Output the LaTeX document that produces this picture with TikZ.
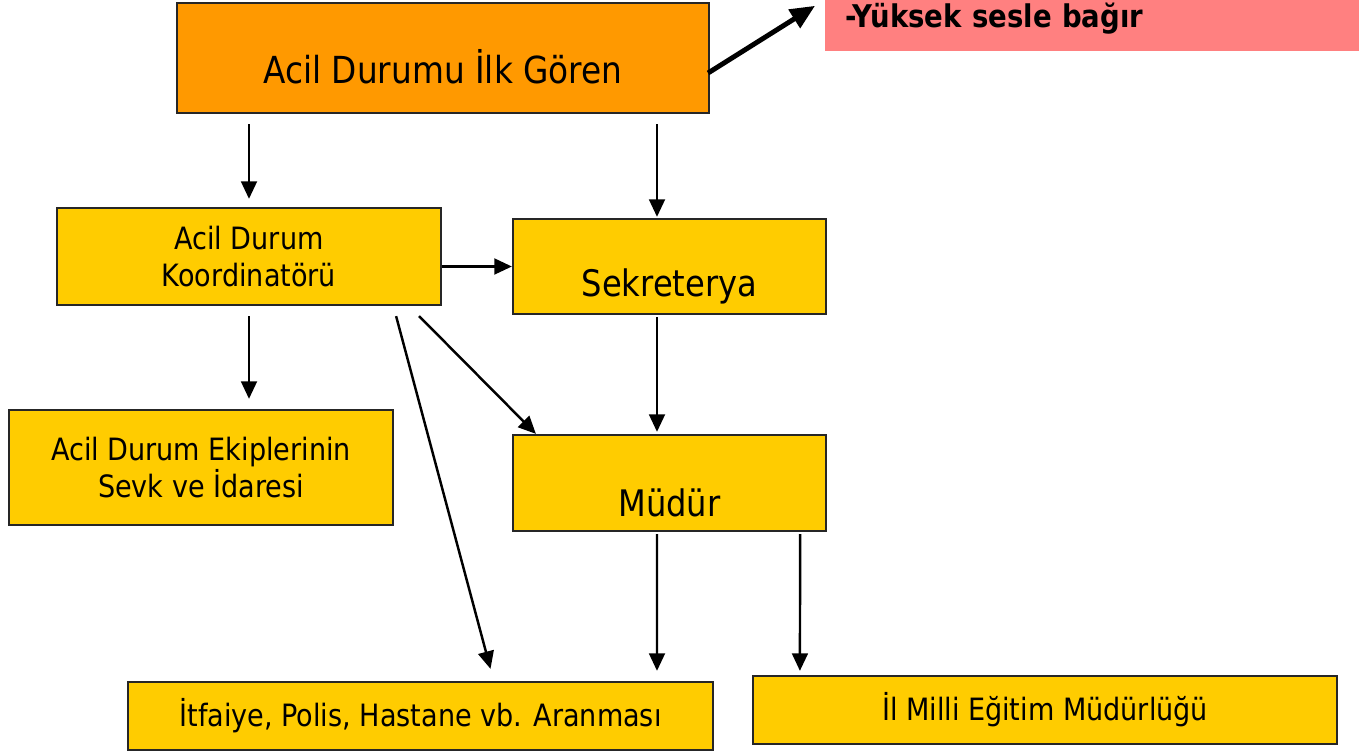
\documentclass[tikz,border=0pt]{standalone}
\usepackage{fontspec}
\setmainfont{DejaVu Sans}[FakeStretch=0.88]
\usetikzlibrary{arrows.meta,calc}
\definecolor{turuncu}{HTML}{FF9900}
\definecolor{sari}{HTML}{FFCC00}
\definecolor{pembe}{HTML}{FF8080}
\begin{document}
\begin{tikzpicture}[x=0.02cm, y=-0.02cm,
  kutu/.style={rectangle, draw=black!85, line width=1.3pt, fill=sari, align=center, font=\fontsize{17.5}{21}\selectfont},
  buyuk/.style={font=\fontsize{20.8}{24}\selectfont, text depth=0pt},
  ok/.style={-{Triangle[length=10pt,width=9pt]}, line width=1.4pt},
  kalin/.style={-{Triangle[length=14pt,width=12pt]}, line width=2.8pt}]
  \useasboundingbox (0,0) rectangle (1359,753);
  % Nodes
  \node (gor) [kutu, buyuk, fill=turuncu, font=\fontsize{21.2}{25}\selectfont, text height=29.5pt, minimum width=10.64cm, minimum height=2.2cm] at (443, 58) {Acil Durumu İlk Gören};
  \node (bagir) [rectangle, fill=pembe, anchor=north west, align=left, text width=9.88cm, inner xsep=0.4cm, inner ysep=0pt, text height=12pt, text depth=10.3pt, minimum height=1.02cm, font=\fontsize{17.8}{21}\selectfont\bfseries] at (825, 0) {-Yüksek sesle bağır};
  \node (koord) [kutu, minimum width=7.68cm, minimum height=1.94cm] at (249, 256.5) {Acil Durum\\Koordinatörü};
  \node (sekr) [kutu, buyuk, text height=34.6pt, minimum width=6.26cm, minimum height=1.9cm] at (669.5, 266.5) {Sekreterya};
  \node (ekip) [kutu, minimum width=7.68cm, minimum height=2.3cm] at (201, 467.5) {Acil Durum Ekiplerinin\\Sevk ve İdaresi};
  \node (mudur) [kutu, buyuk, text height=38.5pt, minimum width=6.26cm, minimum height=1.92cm] at (669.5, 483) {Müdür};
  \node (itf) [kutu, minimum width=11.7cm, minimum height=1.36cm] at (420.5, 716) {İtfaiye, Polis, Hastane vb. Aranması};
  \node (meb) [kutu, minimum width=11.68cm, minimum height=1.36cm] at (1045, 710) {İl Milli Eğitim Müdürlüğü};
  % Arrow
  \draw[ok] ($(gor.south)+(-194,10)$) -- ($(koord.north)+(0,-8)$);
  \draw[ok] ($(gor.south)+(214,10)$) -- ($(sekr.north)+(-12.5,-1)$);
  \draw[ok] (koord.east |- sekr.west) -- (sekr.west);
  \draw[ok] ($(koord.south)+(0,10)$) -- ($(ekip.north)+(48,-10)$);
  \draw[ok] ($(koord.south east)+(-23,10)$) -- ($(mudur.north west)+(24,0)$);
  \draw[ok] ($(koord.south east)+(-46,10)$) -- ($(itf.north)+(70,-12)$);
  \draw[ok] ($(sekr.south)+(-12.5,2)$) -- ($(mudur.north)+(-12.5,-2)$);
  \draw[ok] ($(mudur.south)+(-12.5,2)$) -- ($(itf.north)+(236.5,-10)$);
  \draw[ok] ($(mudur.south east)+(-27,2)$) -- ($(meb.north west)+(48,-4)$);
  \draw[kalin] ($(gor.east)+(-2,15)$) -- ($(bagir.west)+(-10,-20)$);
\end{tikzpicture}
\end{document}
